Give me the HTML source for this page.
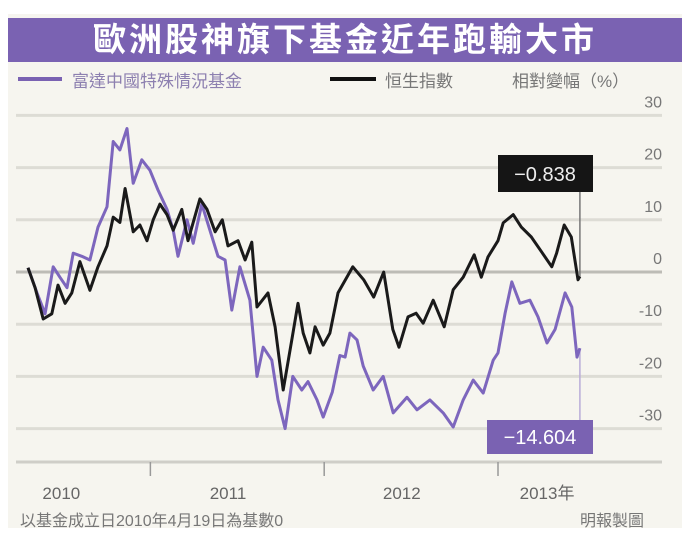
<!DOCTYPE html>
<html><head><meta charset="utf-8">
<style>
body{margin:0;width:694px;height:540px;background:#fff;overflow:hidden;font-family:"Liberation Sans","Noto Sans CJK TC",sans-serif;}
#card{position:absolute;left:8px;top:14px;width:674px;height:514px;background:#f6f5ef;}
#title{position:absolute;left:8px;top:18px;width:674px;height:44px;background:#7a62b2;color:#fff;font-weight:bold;font-size:33px;line-height:44px;text-align:center;letter-spacing:3px;font-family:"Liberation Sans","Noto Sans CJK TC",sans-serif;}
.t{position:absolute;font-size:17px;color:#777;white-space:nowrap;font-family:"Liberation Sans","Noto Sans CJK TC",sans-serif;}
</style></head><body>
<div id="card"></div>
<div id="title">歐洲股神旗下基金近年跑輸大市</div>
<div style="position:absolute;left:18px;top:77px;width:44px;height:4px;background:#7a62b2"></div>
<div class="t" style="left:72px;top:67px;color:#8d80b0">富達中國特殊情況基金</div>
<div style="position:absolute;left:330px;top:77px;width:46px;height:4px;background:#111"></div>
<div class="t" style="left:385px;top:67px">恒生指數</div>
<div class="t" style="left:512px;top:67px">相對變幅（%）</div>
<svg id="chart" width="694" height="540" style="position:absolute;left:0;top:0"></svg>
<div class="t" style="left:20px;top:507px;font-size:16px">以基金成立日2010年4月19日為基數0</div>
<div class="t" style="left:580px;top:507px;font-size:16px">明報製圖</div>
<script>
const yTicks=[30,20,10,0,-10,-20,-30];
const yearLabels=["2010","2011","2012","2013年"];
const yearTickDays=[257,622,987];
const yearLabelDays=[70,420,785,1090];
const hsiDays=[0,15,32,50,63,78,92,109,130,147,166,179,193,204,221,235,250,263,277,292,305,323,336,361,376,393,408,420,441,456,470,481,504,519,536,554,567,578,592,603,620,634,651,682,705,726,747,766,779,798,815,830,851,874,893,914,937,952,966,987,998,1019,1036,1057,1079,1100,1110,1126,1141,1155,1159];
const hsiValues=[0.8,-3,-9,-8,-2.5,-6,-4,2,-3.5,1,5,10.5,9.5,16,7.7,9,6,10,13,11,8,12,6,14,12,7.7,10,5,6,2.3,5.7,-6.7,-4,-10.5,-22.6,-13,-6,-11.7,-15.5,-10.5,-14,-11.7,-4,1,-1.5,-4.8,0,-11,-14.4,-8.6,-7.9,-9.8,-5.4,-10.5,-3.4,-1,3.3,-1,2.9,6,9.4,11,8.6,6.7,3.8,1,3.6,9,6.7,-1.5,-0.838];
const fundDays=[0,19,36,53,67,82,95,113,130,147,166,179,193,208,221,239,256,273,292,305,315,334,347,365,382,399,414,428,445,466,481,494,512,525,540,556,575,588,607,620,639,655,666,676,691,704,725,746,767,796,817,844,872,893,914,935,956,977,987,1002,1016,1033,1054,1071,1090,1107,1128,1142,1153,1159];
const fundValues=[0.8,-4,-8,1,-1,-3,3.6,3,2.3,8.6,12.5,25,23.4,27.5,17,21.5,19.5,15.7,12,8,3,10,5.5,13,8,3,2.3,-7.3,1,-5.4,-20,-14.4,-16.9,-24.5,-30,-20,-22.6,-21,-24.5,-27.8,-23,-16,-16.3,-11.7,-13,-18,-22.6,-20,-27,-24,-26.4,-24.5,-27,-29.7,-24.5,-20.7,-23.2,-16.9,-15.5,-7.9,-1.9,-6,-5.4,-8.6,-13.6,-11,-4,-6.7,-16.3,-14.604];
const hsiLast="-0.838", fundLast="-14.604";

const NS="http://www.w3.org/2000/svg";
const svg=document.getElementById('chart');
const xS=d=>28+d/2.1;
const yS=v=>272-v*5.22;
function mk(tag,attrs){const e=document.createElementNS(NS,tag);for(const k in attrs)e.setAttribute(k,attrs[k]);svg.appendChild(e);return e;}
yTicks.forEach(v=>{
  const l=mk('line',{x1:16,x2:662,y1:yS(v),y2:yS(v),stroke:v===0?'#bdbcb6':'#dddcd5','stroke-width':v===0?3:3});
  
  
  const t=mk('text',{x:662,y:yS(v)-8,'text-anchor':'end','font-size':16,fill:'#777','font-family':'Liberation Sans, sans-serif'});
  t.textContent=v;
  
  
});
const ax=mk('line',{x1:16,x2:662,y1:462,y2:462,stroke:'#cfcec8','stroke-width':3});


yearTickDays.forEach(d=>{
  const l=mk('line',{x1:xS(d),x2:xS(d),y1:462,y2:476,stroke:'#999','stroke-width':1.5});
  
  
});
yearLabels.forEach((s,i)=>{
  const t=mk('text',{x:xS(yearLabelDays[i]),y:499,'text-anchor':'middle','font-size':17,fill:'#666','font-family':'Liberation Sans, Noto Sans CJK TC, sans-serif'});
  t.textContent=s;
  
  
});
function pts(ds,vs){return ds.map((d,i)=>xS(d).toFixed(1)+','+yS(vs[i]).toFixed(1)).join(' ');}
const lastX=xS(hsiDays[hsiDays.length-1]);
// connectors
const c1=mk('line',{x1:lastX,x2:lastX,y1:192,y2:yS(hsiValues[hsiValues.length-1]),stroke:'#777','stroke-width':1.5});


const c2=mk('line',{x1:lastX,x2:lastX,y1:yS(fundValues[fundValues.length-1]),y2:420,stroke:'#b9acd8','stroke-width':1.5});


const pf=mk('polyline',{points:pts(fundDays,fundValues),fill:'none',stroke:'#7d66bd','stroke-width':3,'stroke-linejoin':'round'});


const ph=mk('polyline',{points:pts(hsiDays,hsiValues),fill:'none',stroke:'#1a1a1a','stroke-width':3,'stroke-linejoin':'round'});


// callouts
const b1=mk('rect',{x:498,y:155,width:95,height:37,fill:'#151515'});


const t1=mk('text',{x:545,y:181,'text-anchor':'middle','font-size':20,fill:'#eee','font-family':'Liberation Sans, sans-serif'});
t1.textContent=hsiLast.replace('-','−');


const b2=mk('rect',{x:487,y:420,width:106,height:34,fill:'#7a62b2'});


const t2=mk('text',{x:540,y:444,'text-anchor':'middle','font-size':20,fill:'#fff','font-family':'Liberation Sans, sans-serif'});
t2.textContent=fundLast.replace('-','−');


</script>
</body></html>
